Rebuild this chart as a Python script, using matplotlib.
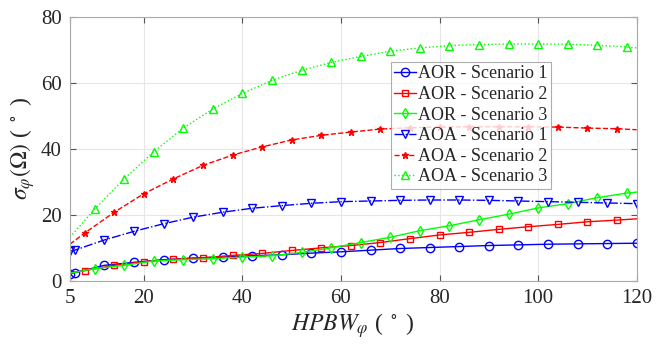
import matplotlib
matplotlib.use("Agg")
import matplotlib.pyplot as plt

plt.rcParams["font.family"] = ["Liberation Serif", "DejaVu Serif"]
plt.rcParams["mathtext.fontset"] = "stix"

# AOR curves
x_aor1 = [5] + list(range(6, 121, 6))
y_aor1 = [2.2, 2.5, 4.7, 5.6, 6.4, 6.9, 7.2, 7.6, 7.9, 8.4, 8.8, 9.3, 9.8, 10.1,
          10.4, 10.7, 10.9, 11.1, 11.2, 11.3, 11.4]
x_aor2 = [5] + list(range(8, 117, 6)) + [120]
y_aor2 = [2.4, 3.1, 4.7, 5.8, 6.5, 7.0, 7.7, 8.3, 9.2, 10.0, 10.7, 11.6, 12.8, 13.9,
          14.7, 15.6, 16.4, 17.1, 17.9, 18.4, 18.8]
x_aor3 = [5] + list(range(10, 119, 6)) + [120]
y_aor3 = [2.3, 3.7, 4.7, 6.0, 6.4, 6.7, 7.2, 7.6, 8.6, 10.0, 11.6, 13.2, 15.2, 16.7,
          18.5, 20.2, 22.1, 23.4, 25.2, 26.6, 26.9]

# AOA curves
x_aoa1 = [5] + list(range(6, 121, 6))
y_aoa1 = [9.0, 9.3, 12.4, 15.0, 17.3, 19.3, 20.8, 22.0, 22.8, 23.5, 24.0, 24.2, 24.4,
          24.5, 24.5, 24.4, 24.2, 24.0, 23.8, 23.6, 23.4]
x_aoa2 = [5] + list(range(8, 117, 6)) + [120]
y_aoa2 = [11.1, 14.5, 20.8, 26.4, 30.9, 35.0, 38.1, 40.6, 42.7, 44.1, 45.1, 46.0, 46.4,
          46.6, 46.7, 46.7, 46.7, 46.6, 46.3, 46.1, 45.8]
x_aoa3 = [5] + list(range(10, 119, 6)) + [120]
y_aoa3 = [13.2, 21.7, 30.9, 39.1, 46.3, 52.1, 56.8, 60.8, 63.8, 66.2, 68.0, 69.6, 70.6,
          71.3, 71.6, 71.8, 71.8, 71.7, 71.4, 70.9, 70.6]

labels = ["AOR - Scenario 1", "AOR - Scenario 2", "AOR - Scenario 3",
          "AOA - Scenario 1", "AOA - Scenario 2", "AOA - Scenario 3"]

fig = plt.figure(figsize=(6.66, 3.45), dpi=100)
ax = fig.add_axes([0.105, 0.186, 0.851, 0.765])

blue, red, green = "#0000ff", "#ff0000", "#00ff00"

def draw(x, y, color, ls, marker, label, ms, filled=False):
    # skip the endpoints that carry no marker
    idx = [i for i in range(len(x)) if not (i == 0 and x[1] - x[0] > 1)
           and not (i == len(x) - 1 and x[-1] - x[-2] < 6)]
    ax.plot(x, y, color=color, ls=ls, lw=1.0, marker=marker, markevery=idx,
            ms=ms, mfc=color if filled else "none", mec=color, mew=1.0,
            label=label)

draw(x_aor1, y_aor1, blue, "-", "o", labels[0], 6)
draw(x_aor2, y_aor2, red, "-", "s", labels[1], 4.5)
draw(x_aor3, y_aor3, green, "-", "d", labels[2], 5.5)
draw(x_aoa1, y_aoa1, blue, "-.", "v", labels[3], 6)
draw(x_aoa2, y_aoa2, red, "--", "*", labels[4], 5, filled=True)
draw(x_aoa3, y_aoa3, green, ":", "^", labels[5], 6)

ax.set_xlim(5, 120)
ax.set_ylim(0, 80)
ax.set_xticks([5, 20, 40, 60, 80, 100, 120])
ax.set_yticks([0, 20, 40, 60, 80])
ax.grid(True, color="#e6e6e6", lw=0.8)
ax.set_axisbelow(True)
ax.tick_params(direction="in", top=True, right=True, labelsize=15, length=4,
               color="#555555", labelcolor="#262626", pad=6)
for lab in ax.get_xticklabels() + ax.get_yticklabels():
    lab.set_fontfamily("Liberation Serif")
for s in ax.spines.values():
    s.set_color("#aaaaaa")
    s.set_linewidth(0.8)

ax.set_xlabel(r"$HPBW_{\varphi}$ ( $^\circ$ )", fontsize=17, color="#262626", labelpad=2)
ax.set_ylabel(r"$\sigma_{\varphi}(\Omega)$ ( $^\circ$ )", fontsize=17, color="#262626", labelpad=3)

leg = ax.legend(loc="upper left", bbox_to_anchor=(0.566, 0.83), fontsize=13,
                frameon=True, fancybox=False, edgecolor="#999999",
                handlelength=1.2, handletextpad=0.1, borderpad=0.2,
                labelspacing=0.2, borderaxespad=0)
leg.get_frame().set_linewidth(0.8)
for t in leg.get_texts():
    t.set_color("#262626")

fig.savefig("out.png", dpi=100)
